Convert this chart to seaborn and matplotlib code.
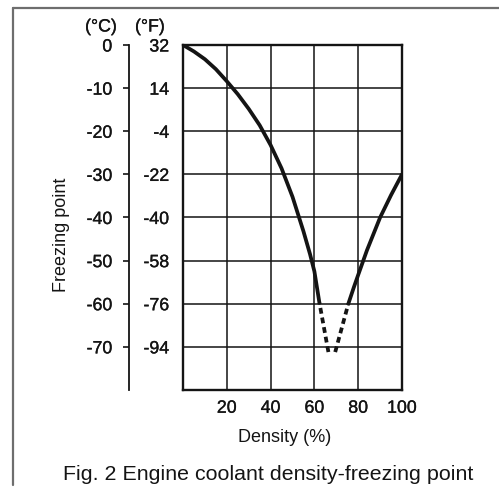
import matplotlib
matplotlib.use("Agg")
import matplotlib.pyplot as plt
import matplotlib.patheffects as pe
import seaborn as sns
import pandas as pd
from matplotlib.lines import Line2D

# Freezing point (°C) of engine coolant versus density (%)
left_density = [0, 5, 10, 15, 20, 25, 30, 35, 40, 45, 50, 55, 58, 60, 62.3]
left_freeze = [0, -1.5, -3.3, -5.6, -8.4, -11.4, -14.8, -18.6, -23.2,
               -28.6, -35.2, -43.2, -48.5, -52.5, -59.8]
# dashed stretches near the minimum, each listed from the bottom upwards
left_dash_density = [66.4, 62.3]
left_dash_freeze = [-71.2, -59.8]
right_dash_density = [69.5, 75.5]
right_dash_freeze = [-71.2, -60]
right_density = [75.5, 78, 80, 84, 87, 90, 95, 100]
right_freeze = [-60, -56.2, -53.3, -47.6, -43.8, -40, -34.8, -30]

density_ticks = [20, 40, 60, 80, 100]
celsius_ticks = [0, -10, -20, -30, -40, -50, -60, -70]
celsius_labels = ["0", "-10", "-20", "-30", "-40", "-50", "-60", "-70"]
fahrenheit_labels = ["32", "14", "-4", "-22", "-40", "-58", "-76", "-94"]

sns.set_style("white")
plt.rcParams["font.family"] = ["Liberation Sans", "DejaVu Sans"]
plt.rcParams["axes.unicode_minus"] = False

INK = "#141414"
W, H = 499, 495
heavy = [pe.withStroke(linewidth=0.22, foreground=INK)]

fig = plt.figure(figsize=(W / 100, H / 100), dpi=100)
ax = fig.add_axes([183 / W, 1 - 390 / H, 219 / W, 345 / H])

for dx, dy in [(left_density, left_freeze), (right_density, right_freeze)]:
    sns.lineplot(data=pd.DataFrame({"d": dx, "t": dy}), x="d", y="t",
                 color=INK, linewidth=2.7, ax=ax, sort=False, legend=False)
for dx, dy in [(left_dash_density, left_dash_freeze),
               (right_dash_density, right_dash_freeze)]:
    sns.lineplot(data=pd.DataFrame({"d": dx, "t": dy}), x="d", y="t",
                 color=INK, linewidth=2.7, ax=ax, sort=False, legend=False,
                 linestyle=(0, (1.55, 1.05)), dash_capstyle="butt")

ax.set_xlim(0, 100)
ax.set_ylim(-80, 0)
ax.set_xticks(density_ticks)
ax.set_yticks(celsius_ticks)
ax.set_yticklabels(fahrenheit_labels)
ax.set_xlabel("")
ax.set_ylabel("")
ax.grid(True, color=INK, linewidth=1.1)
ax.set_axisbelow(True)
ax.tick_params(axis="x", length=0, pad=7, labelsize=12.8, labelcolor=INK)
ax.tick_params(axis="y", length=0, pad=10, labelsize=12.8, labelcolor=INK)
for sp in ax.spines.values():
    sp.set_visible(True)
    sp.set_color(INK)
    sp.set_linewidth(1.7)

# Celsius scale drawn as a separate axis to the left of the Fahrenheit one
sec = ax.secondary_yaxis((129 - 183) / 219)
sec.set_yticks(celsius_ticks)
sec.set_yticklabels(celsius_labels)
sec.tick_params(axis="y", left=True, right=False, length=4, width=1.2,
                pad=8, labelsize=12.8, labelcolor=INK, color=INK)
for name in ("left", "right"):
    sec.spines[name].set_color(INK)
    sec.spines[name].set_linewidth(1.3)

for lab in ax.get_xticklabels() + ax.get_yticklabels() + sec.get_yticklabels():
    lab.set_path_effects(heavy)

fig.text(101 / W, 1 - 27 / H, "(°C)", ha="center", va="center",
         fontsize=12.8, color=INK, path_effects=heavy)
fig.text(150 / W, 1 - 27 / H, "(°F)", ha="center", va="center",
         fontsize=12.8, color=INK, path_effects=heavy)
fig.text(62 / W, 1 - 235 / H, "Freezing point", rotation=90, ha="center",
         va="center", fontsize=13, color=INK)
fig.text(285 / W, 1 - 437 / H, "Density (%)", ha="center", va="center",
         fontsize=13, color=INK)
fig.text(268.5 / W, 1 - 475 / H,
         "Fig. 2 Engine coolant density-freezing point", ha="center",
         va="center", fontsize=15.4, color=INK)

# Grey frame along the top and left edges
frame = dict(transform=fig.transFigure, color="#6e6e6e", linewidth=1.6)
fig.add_artist(Line2D([13 / W, 1.0], [1 - 8 / H, 1 - 8 / H], **frame))
fig.add_artist(Line2D([13 / W, 13 / W], [1 - 8 / H, 1 - 485 / H], **frame))

fig.savefig("out.png", dpi=100)
